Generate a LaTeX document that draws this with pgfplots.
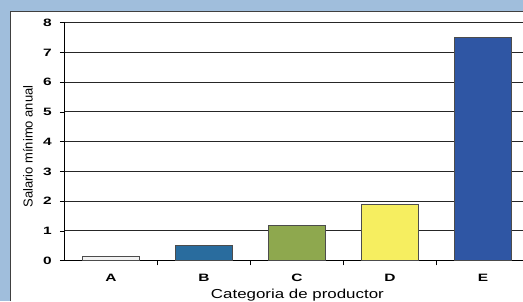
\documentclass[border=0pt]{standalone}
\usepackage{pgfplots}
\pgfplotsset{compat=1.18}
\usepackage{fontspec}
\setmainfont{Liberation Sans}[FakeStretch=1.3]
\newfontfamily\yfont{Liberation Sans}
\newfontfamily\tfont{Liberation Sans}[FakeStretch=1.45]
\definecolor{framebg}{RGB}{160,190,220}
\definecolor{cA}{RGB}{242,242,242}
\definecolor{cB}{RGB}{41,108,158}
\definecolor{cC}{RGB}{142,168,78}
\definecolor{cD}{RGB}{246,238,96}
\definecolor{cE}{RGB}{47,86,164}
\begin{document}
\begin{tikzpicture}[x=0.75pt,y=0.75pt]
\fill[framebg] (0,0) rectangle (523,301);
\fill[white] (10,0) rectangle (523,290);
\draw[black!75, line width=0.75pt] (10,0) -- (10,290) -- (523,290);
\begin{axis}[
  at={(48.375pt,30.225pt)}, anchor=south west,
  scale only axis, width=343.875pt, height=178.5pt,
  xmin=-0.5, xmax=4.43, ymin=0, ymax=8,
  axis x line*=bottom, axis y line*=left,
  axis line style={black, line width=0.75pt, -},
  ybar, bar width=0.62, bar shift=0pt,
  xtick={0.5,1.5,2.5,3.5}, xticklabels={},
  extra x ticks={0,1,2,3,4}, extra x tick labels={A,B,C,D,E},
  extra x tick style={grid=none, major tick length=0pt, tick style={draw=none}},
  ytick={0,1,2,3,4,5,6,7,8},
  tick align=outside, major tick length=3.5pt,
  tick style={black, line width=0.6pt},
  ymajorgrids, major grid style={black!85, line width=0.75pt},
  /pgf/number format/assume math mode=true,
  ticklabel style={font=\tfont\fontsize{8}{9}\selectfont\bfseries},
  yticklabel style={xshift=-2.6pt},
  xticklabel style={yshift=-6.5pt},
  xlabel={Categoria de productor},
  xlabel style={at={(rel axis cs:0.508,0)}, anchor=base, yshift=-28.5pt, font=\fontsize{9.75}{11}\selectfont},
  ylabel={Salario mínimo anual},
  ylabel style={at={(rel axis cs:-0.0796,0.48)}, anchor=center, font=\yfont\fontsize{9.75}{11}\selectfont},
]
\addplot[fill=cA, draw=black!70, line width=0.6pt] coordinates {(0,0.15)};
\addplot[fill=cB, draw=black!70, line width=0.6pt] coordinates {(1,0.5)};
\addplot[fill=cC, draw=black!70, line width=0.6pt] coordinates {(2,1.2)};
\addplot[fill=cD, draw=black!70, line width=0.6pt] coordinates {(3,1.9)};
\addplot[fill=cE, draw=black!70, line width=0.6pt] coordinates {(4,7.52)};
\end{axis}
\pgfresetboundingbox
\useasboundingbox (0,0) rectangle (523,301);
\end{tikzpicture}
\end{document}
